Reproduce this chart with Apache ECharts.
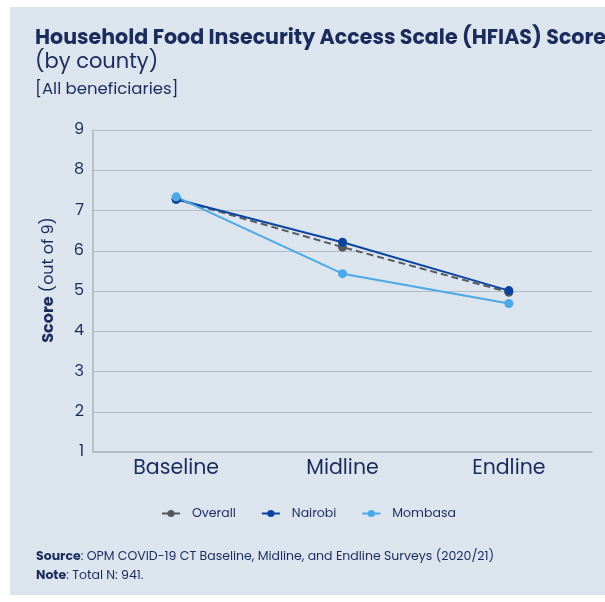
<!DOCTYPE html>
<html>
<head>
<meta charset="utf-8">
<script src="https://cdn.jsdelivr.net/npm/echarts@6/dist/echarts.min.js"></script>
<style>
  html, body { margin: 0; padding: 0; background: #ffffff; }
  #chart { width: 605px; height: 602px; }
</style>
</head>
<body>
<div id="chart"></div>
<script>
// HFIAS score by survey round and county
const rounds = ['Baseline', 'Midline', 'Endline'];
const overall = [7.28, 6.09, 4.97];
const nairobi = [7.28, 6.21, 5.01];
const mombasa = [7.34, 5.43, 4.69];
const yTicks = [1, 2, 3, 4, 5, 6, 7, 8, 9];

const navy = '#1a2b5c';
const font = 'Poppins, "Noto Sans", "Open Sans", sans-serif';

const chart = echarts.init(document.getElementById('chart'));

function lineSeries(name, data, color, dashed) {
  return {
    name: name,
    type: 'line',
    data: data,
    symbol: 'circle',
    symbolSize: 9,
    lineStyle: { color: color, width: 2, type: dashed ? [7, 4] : 'solid' },
    itemStyle: { color: color },
    emphasis: { disabled: true }
  };
}

chart.setOption({
  backgroundColor: '#ffffff',
  animation: false,
  graphic: [
    { type: 'rect', z: -10, shape: { x: 10, y: 7, width: 600, height: 588 }, style: { fill: '#dce4ed' } },
    { type: 'text', left: 35, top: 28, style: { text: 'Household Food Insecurity Access Scale (HFIAS) Score', font: 'bold 20.6px ' + font, fill: navy } },
    { type: 'text', left: 35, top: 52, style: { text: '(by county)', font: '21px ' + font, fill: navy } },
    { type: 'text', left: 35, top: 81, style: { text: '[All beneficiaries]', font: '16.5px ' + font, fill: navy } },
    { type: 'text', left: 36, top: 550, style: {
        rich: { b: { font: 'bold 12.5px ' + font, fill: navy }, r: { font: '12.5px ' + font, fill: navy } },
        text: '{b|Source}{r|: OPM COVID-19 CT Baseline, Midline, and Endline Surveys (2020/21)}' } },
    { type: 'text', left: 36, top: 569, style: {
        rich: { b: { font: 'bold 12.5px ' + font, fill: navy }, r: { font: '12.5px ' + font, fill: navy } },
        text: '{b|Note}{r|: Total N: 941.}' } },
    { type: 'text', x: 49, y: 280, rotation: Math.PI / 2, style: {
        rich: { b: { font: 'bold 16px ' + font, fill: navy }, r: { font: '16px ' + font, fill: navy } },
        text: '{b|Score}{r| (out of 9)}', align: 'center', verticalAlign: 'middle' } }
  ],
  legend: {
    top: 502,
    left: 156,
    itemWidth: 18,
    itemHeight: 9,
    itemGap: 25,
    textStyle: { color: navy, fontSize: 12.5, fontFamily: font, padding: [0, 0, 0, 7] },
    data: ['Overall', 'Nairobi', 'Mombasa']
  },
  grid: { left: 93, right: 13, top: 130, bottom: 150 },
  xAxis: {
    type: 'category',
    data: rounds,
    boundaryGap: true,
    axisLine: { lineStyle: { color: '#a9b4bf', width: 1.5 } },
    axisTick: { show: false },
    axisLabel: { color: navy, fontSize: 20.5, fontFamily: font, margin: 6 }
  },
  yAxis: {
    type: 'value',
    min: yTicks[0],
    max: yTicks[yTicks.length - 1],
    interval: 1,
    axisLine: { show: true, lineStyle: { color: '#a9b4bf', width: 1.5 } },
    axisTick: { show: false },
    axisLabel: { color: navy, fontSize: 16, fontFamily: font, margin: 9 },
    splitLine: { lineStyle: { color: '#b2bdc8', width: 1.2 } }
  },
  series: [
    lineSeries('Overall', overall, '#555a5f', true),
    lineSeries('Nairobi', nairobi, '#0b44a0', false),
    lineSeries('Mombasa', mombasa, '#4aa9e6', false)
  ]
});
</script>
</body>
</html>
